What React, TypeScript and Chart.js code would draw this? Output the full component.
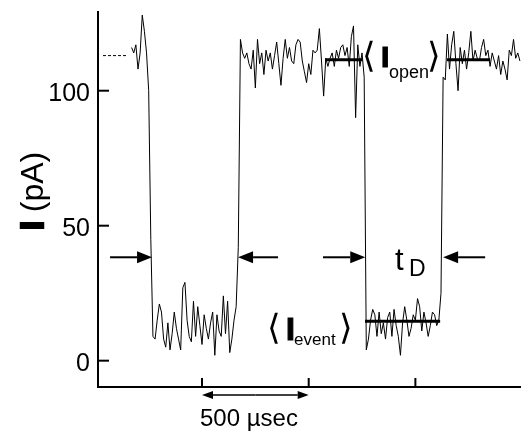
import React, { useEffect, useRef } from "react";
import { Chart, registerables } from "chart.js";

Chart.register(...registerables);

// ---- data (time in µs, current in pA) ----
const T_START = 170;
const T_STEP = 10;
const openBefore = [116, 114, 117, 108, 114, 128, 122, 114, 100, 45];
const blockade1 = [
  9, 8, 15, 21, 18, 8, 5, 14, 4, 10, 18, 12, 8, 4, 27, 29, 15, 9, 7, 22, 9, 20, 13, 6, 17,
  12, 8, 14, 18, 2, 17, 11, 9, 24, 10, 22, 3, 8, 15, 20, 42,
];
const openMiddle = [
  119, 114, 112, 114, 110, 108, 115, 101, 119, 110, 114, 106, 115, 111, 114, 108, 113, 118,
  110, 102, 112, 119, 112, 116, 111, 110, 117, 119, 118, 111, 107, 103, 110, 106, 115, 114,
  115, 123, 111, 98, 112, 109, 112, 114, 109, 115, 112, 116, 117, 113, 116, 109, 120, 124,
  90, 117, 109, 114, 105,
];
const blockade2 = [
  4, 8, 15, 19, 17, 9, 18, 10, 14, 8, 16, 18, 9, 19, 13, 9, 2, 14, 20, 15, 9, 12, 17, 15,
  23, 20, 11, 18, 14, 9, 13, 18, 17, 13, 15, 25,
];
const openAfter = [
  105, 104, 121, 108, 117, 122, 110, 100, 116, 110, 115, 108, 114, 122, 111, 115, 112, 111,
  116, 119, 113, 115, 109, 114, 111, 108, 113, 106, 111, 108, 104, 115, 113, 119, 112, 114,
  111,
];
const current = [...openBefore, ...blockade1, ...openMiddle, ...blockade2, ...openAfter];

const BASELINE_SPAN = [36, 148];
const BASELINE_LEVEL = 113;
const I_OPEN = 111.5;
const OPEN_MEAN_SPANS = [
  [1077, 1252],
  [1648, 1850],
];
const I_EVENT = 14.6;
const EVENT_MEAN_SPAN = [1264, 1616];
const ARROW_LEVEL = 38.3;
const ARROWS = [
  [69, 266],
  [856, 669],
  [1067, 1265],
  [1827, 1630],
];
const SCALE_BAR = [500, 1000];
const SCALE_LABEL = "500 µsec";
const Y_TICKS = [0, 50, 100];
const X_TICKS = [500, 1000, 1500];
const OPEN_LABEL_AT = [1264, 108.8];
const EVENT_LABEL_AT = [819, 7.7];
const TD_LABEL_AT = [1405, 33.6];

const FONT = "'Liberation Sans', Arial, Helvetica, sans-serif";
const BRACKET_FONT = "'DejaVu Sans', sans-serif";

function arrow(ctx: CanvasRenderingContext2D, x1: number, x2: number, y: number, len: number, half: number) {
  const dir = x2 > x1 ? 1 : -1;
  ctx.beginPath();
  ctx.moveTo(x1, y);
  ctx.lineTo(x2 - dir * len, y);
  ctx.stroke();
  ctx.beginPath();
  ctx.moveTo(x2, y);
  ctx.lineTo(x2 - dir * len, y - half);
  ctx.lineTo(x2 - dir * len, y + half);
  ctx.closePath();
  ctx.fill();
}

function meanLabel(
  ctx: CanvasRenderingContext2D,
  x0: number,
  base: number,
  sub: string,
  iSize: number,
  subSize: number,
  subDx: number,
  subDy: number,
  rightDx: number,
  brDy: number
) {
  ctx.textBaseline = "middle";
  ctx.font = `35px ${BRACKET_FONT}`;
  ctx.textAlign = "left";
  ctx.fillText("\u27E8", x0 - 3, base + brDy);
  ctx.fillText("\u27E9", x0 + rightDx - 3, base + brDy);
  ctx.textBaseline = "alphabetic";
  ctx.font = `bold ${iSize}px ${FONT}`;
  ctx.lineWidth = 1.2;
  ctx.fillText("I", x0 + 16, base);
  ctx.strokeText("I", x0 + 16, base);
  ctx.font = `${subSize}px ${FONT}`;
  ctx.fillText(sub, x0 + subDx, base + subDy);
}

const overlay = {
  id: "overlay",
  afterDatasetsDraw(chart: any) {
    const { ctx, chartArea, scales } = chart;
    const xs = scales.x;
    const ys = scales.y;
    ctx.save();
    ctx.strokeStyle = "#000";
    ctx.fillStyle = "#000";
    // tick marks (inward) and y tick labels
    ctx.lineWidth = 2;
    ctx.font = `25px ${FONT}`;
    ctx.textAlign = "right";
    ctx.textBaseline = "alphabetic";
    for (const v of Y_TICKS) {
      const py = ys.getPixelForValue(v);
      ctx.beginPath();
      ctx.moveTo(chartArea.left, py);
      ctx.lineTo(chartArea.left + 11, py);
      ctx.stroke();
      ctx.fillText(String(v), chartArea.left - 8, py + 10.5);
    }
    for (const v of X_TICKS) {
      const px = xs.getPixelForValue(v);
      ctx.beginPath();
      ctx.moveTo(px, chartArea.bottom);
      ctx.lineTo(px, chartArea.bottom - 9);
      ctx.stroke();
    }
    // duration arrows
    ctx.lineWidth = 2;
    const ay = ys.getPixelForValue(ARROW_LEVEL);
    for (const [a, b] of ARROWS) {
      arrow(ctx, xs.getPixelForValue(a), xs.getPixelForValue(b), ay, 15, 6);
    }
    // scale bar
    ctx.lineWidth = 1.5;
    const sy = chartArea.bottom + 8;
    const s1 = xs.getPixelForValue(SCALE_BAR[0]);
    const s2 = xs.getPixelForValue(SCALE_BAR[1]);
    const mid = (s1 + s2) / 2;
    arrow(ctx, mid, s1, sy, 11, 4);
    arrow(ctx, mid, s2, sy, 11, 4);
    ctx.font = `24px ${FONT}`;
    ctx.textAlign = "left";
    ctx.textBaseline = "alphabetic";
    ctx.fillText(SCALE_LABEL, s1 - 2, chartArea.bottom + 39);

    // mean labels
    meanLabel(
      ctx,
      xs.getPixelForValue(OPEN_LABEL_AT[0]),
      ys.getPixelForValue(OPEN_LABEL_AT[1]),
      "open",
      30,
      18,
      24,
      11,
      65,
      -9
    );
    meanLabel(
      ctx,
      xs.getPixelForValue(EVENT_LABEL_AT[0]),
      ys.getPixelForValue(EVENT_LABEL_AT[1]),
      "event",
      32,
      17,
      24,
      5,
      72,
      -10
    );
    // t_D
    const tx = xs.getPixelForValue(TD_LABEL_AT[0]);
    const tyy = ys.getPixelForValue(TD_LABEL_AT[1]);
    ctx.textAlign = "left";
    ctx.textBaseline = "alphabetic";
    ctx.font = `31px ${FONT}`;
    ctx.fillText("t", tx, tyy);
    ctx.font = `23px ${FONT}`;
    ctx.fillText("D", tx + 14, tyy + 6);

    // y-axis title
    ctx.save();
    ctx.translate(chartArea.left - 55, chartArea.top + 218);
    ctx.rotate(-Math.PI / 2);
    ctx.textAlign = "left";
    ctx.textBaseline = "alphabetic";
    ctx.font = `bold 32px ${FONT}`;
    ctx.lineWidth = 2.5;
    ctx.fillText("I", 0, 0);
    ctx.strokeText("I", 0, 0);
    const w = ctx.measureText("I").width;
    ctx.font = `32px ${FONT}`;
    ctx.fillText(" (pA)", w, 0);
    ctx.restore();

    ctx.restore();
  },
};

export default function App() {
  const ref = useRef<HTMLCanvasElement>(null);
  useEffect(() => {
    if (!ref.current) return;
    const trace = current.map((v, i) => ({ x: T_START + i * T_STEP, y: v }));
    const line = (pts: { x: number; y: number }[], width: number, dash: number[] = []) => ({
      data: pts,
      showLine: true,
      borderColor: "#000",
      borderWidth: width,
      borderDash: dash,
      pointRadius: 0,
      tension: 0,
      fill: false,
    });
    const chart = new Chart(ref.current, {
      type: "scatter",
      data: {
        datasets: [
          line(
            BASELINE_SPAN.map((t) => ({ x: t, y: BASELINE_LEVEL })),
            1,
            [3, 2]
          ),
          line(trace, 1),
          ...OPEN_MEAN_SPANS.map((s) => line(s.map((t) => ({ x: t, y: I_OPEN })), 3)),
          line(EVENT_MEAN_SPAN.map((t) => ({ x: t, y: I_EVENT })), 3),
        ],
      },
      plugins: [overlay],
      options: {
        responsive: false,
        animation: false,
        devicePixelRatio: 1,
        layout: { padding: { top: 12, right: 0, left: 0, bottom: 0 } },
        plugins: { legend: { display: false }, tooltip: { enabled: false } },
        scales: {
          x: {
            type: "linear",
            min: 12.5,
            max: 1995,
            afterBuildTicks: (s: any) => {
              s.ticks = X_TICKS.map((v) => ({ value: v }));
            },
            afterFit: (s: any) => {
              s.height = 44;
            },
            ticks: { display: false },
            grid: { display: false, drawTicks: false },
            border: { display: true, color: "#000", width: 2 },
          },
          y: {
            type: "linear",
            min: -9.75,
            max: 129.15,
            afterBuildTicks: (s: any) => {
              s.ticks = Y_TICKS.map((v) => ({ value: v }));
            },
            afterFit: (s: any) => {
              s.width = 98;
            },
            ticks: { display: false },
            grid: { display: false, drawTicks: false },
            border: { display: true, color: "#000", width: 2 },
          },
        },
      },
    });
    return () => chart.destroy();
  }, []);
  return (
    <div style={{ position: "fixed", left: 0, top: 0, width: 521, height: 431, background: "#fff" }}>
      <canvas ref={ref} width={521} height={431} />
    </div>
  );
}
